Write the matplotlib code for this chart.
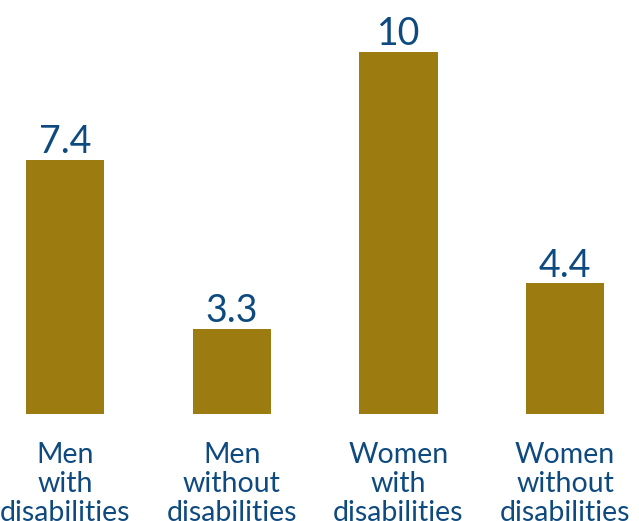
import matplotlib
matplotlib.use("Agg")
import matplotlib.pyplot as plt

categories = ["Men\nwith\ndisabilities", "Men\nwithout\ndisabilities",
              "Women\nwith\ndisabilities", "Women\nwithout\ndisabilities"]
values = [7.4, 3.3, 10, 4.4]
value_labels = ["7.4", "3.3", "10", "4.4"]

bar_color = "#9C7B10"
text_color = "#0E4A80"
plt.rcParams["font.family"] = ["Lato", "DejaVu Sans"]

fig = plt.figure(figsize=(6.39, 5.21), dpi=100)
ax = fig.add_axes([0, 0.206, 1, 0.794])
x = list(range(len(values)))
ax.bar(x, values, width=0.47, color=bar_color)
ax.set_xlim(-0.39, 3.444)
ax.set_ylim(1.25, 11.26)

for xi, v, lab in zip(x, values, value_labels):
    ax.annotate(lab, (xi, v), xytext=(0, 5), textcoords="offset points",
                ha="center", va="baseline", fontsize=27, color=text_color)

ax.set_xticks(x)
ax.set_xticklabels(categories, fontsize=20.5, color=text_color, linespacing=1.13)
ax.tick_params(axis="x", length=0, pad=20.5)
ax.set_yticks([])
for s in ax.spines.values():
    s.set_visible(False)

fig.savefig("out.png", dpi=100)
